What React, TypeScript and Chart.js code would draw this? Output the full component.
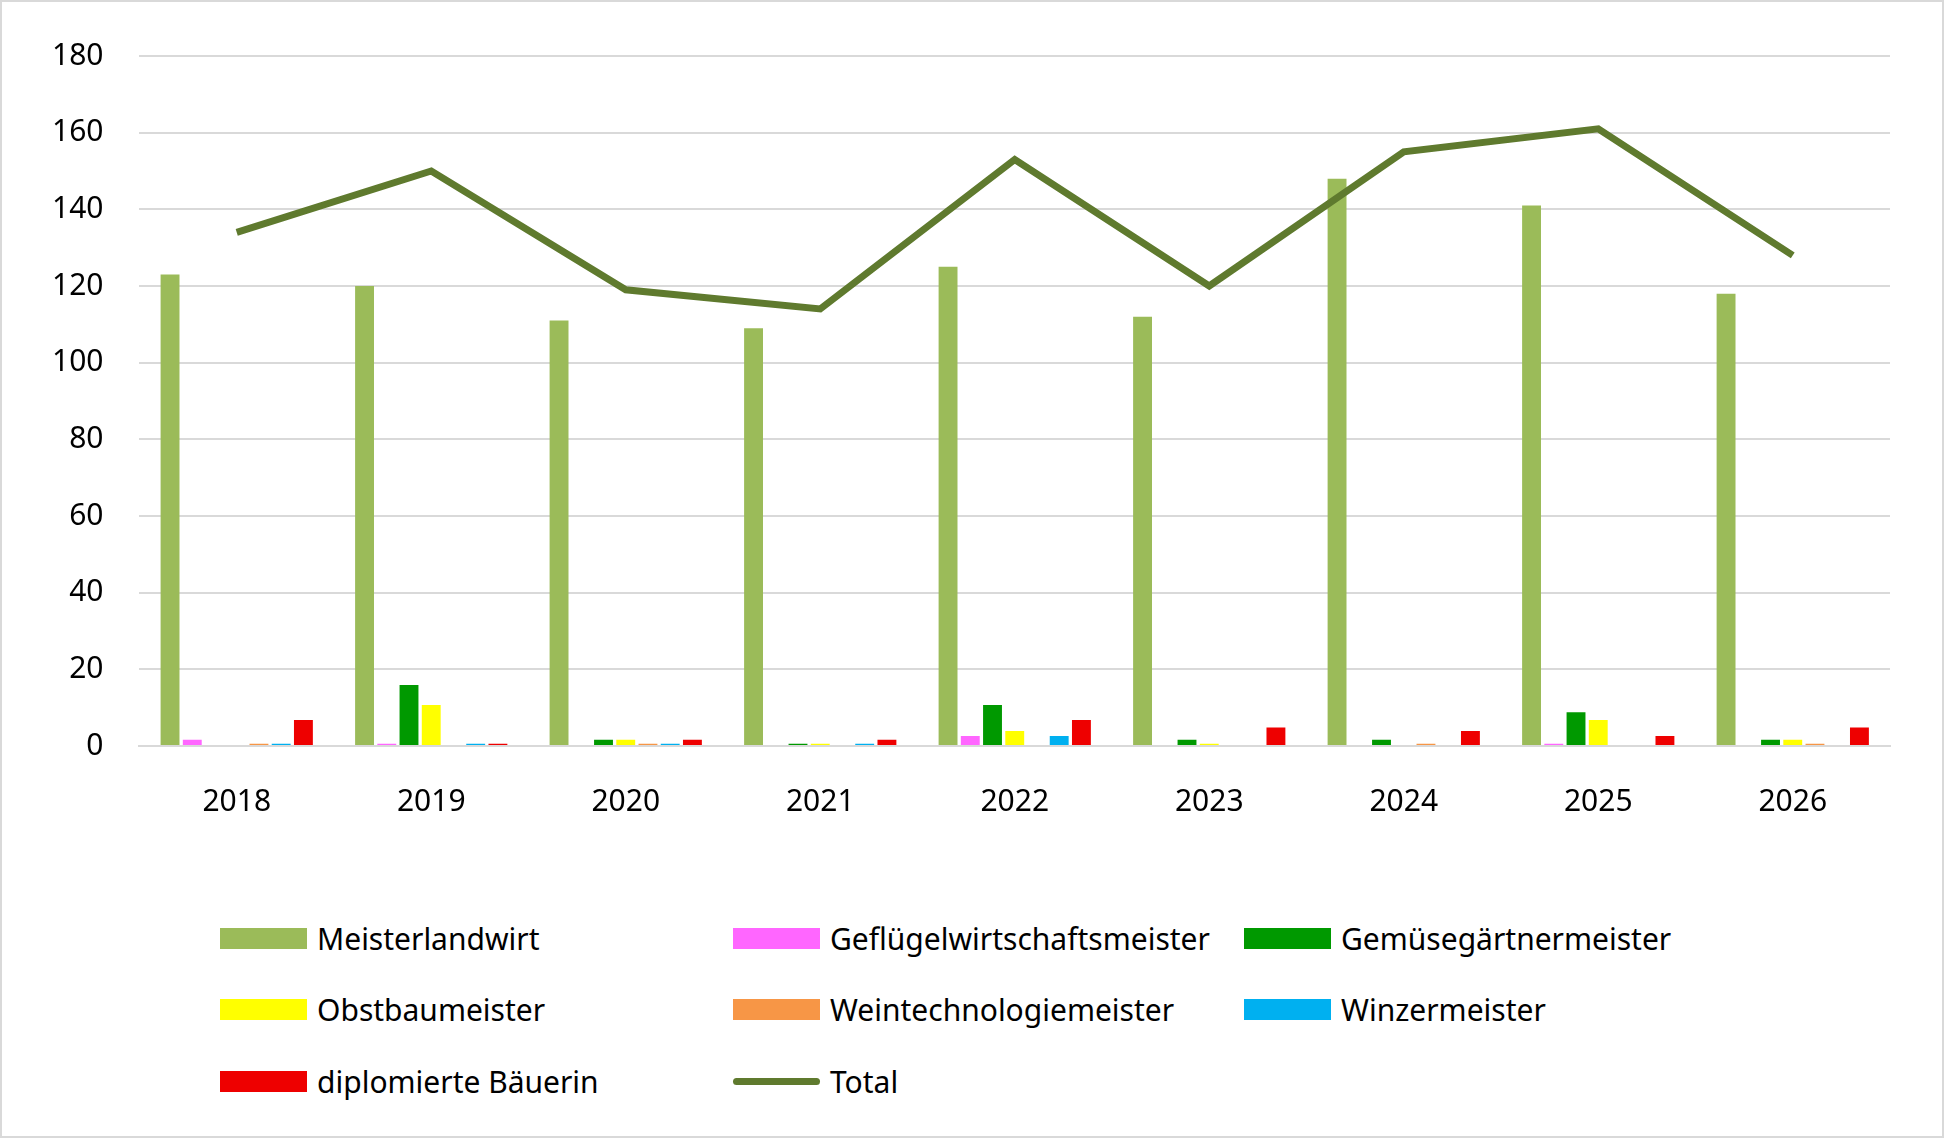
import React, { useEffect, useRef } from "react";
import { Chart, registerables } from "chart.js";
Chart.register(...registerables);

const years = ["2018", "2019", "2020", "2021", "2022", "2023", "2024", "2025", "2026"];
const meisterlandwirt = [123, 120, 111, 109, 125, 112, 148, 141, 118];
const gefluegel = [1.6, 0.6, 0, 0, 2.6, 0, 0, 0.6, 0];
const gemuese = [0, 15.9, 1.6, 0.6, 10.7, 1.6, 1.6, 8.8, 1.6];
const obstbau = [0, 10.7, 1.6, 0.6, 3.9, 0.6, 0, 6.8, 1.6];
const weintech = [0.6, 0, 0.6, 0, 0, 0, 0.6, 0, 0.6];
const winzer = [0.6, 0.6, 0.6, 0.6, 2.6, 0, 0, 0, 0];
const baeuerin = [6.8, 0.6, 1.6, 1.6, 6.8, 4.8, 3.9, 2.6, 4.8];
const total = [134, 150, 119, 114, 153, 120, 155, 161, 128];
const yTicks = [0, 20, 40, 60, 80, 100, 120, 140, 160, 180];

const series = [
  { label: "Meisterlandwirt", data: meisterlandwirt, color: "#9bbb59" },
  { label: "Geflügelwirtschaftsmeister", data: gefluegel, color: "#ff66ff" },
  { label: "Gemüsegärtnermeister", data: gemuese, color: "#009900" },
  { label: "Obstbaumeister", data: obstbau, color: "#ffff00" },
  { label: "Weintechnologiemeister", data: weintech, color: "#f79646" },
  { label: "Winzermeister", data: winzer, color: "#00b0f0" },
  { label: "diplomierte Bäuerin", data: baeuerin, color: "#ee0000" },
];
const lineColor = "#5f7a2e";
const FONT = "'Noto Sans', sans-serif";

export default function App() {
  const ref = useRef<HTMLCanvasElement>(null);
  useEffect(() => {
    const chart = new Chart(ref.current!, {
      type: "bar",
      data: {
        labels: years,
        datasets: [
          ...series.map((s) => ({
            type: "bar" as const,
            label: s.label,
            data: s.data,
            backgroundColor: s.color,
            barPercentage: 0.85,
            categoryPercentage: 0.8,
            order: 2,
          })),
          {
            type: "line" as const,
            label: "Total",
            data: total,
            borderColor: lineColor,
            backgroundColor: lineColor,
            borderWidth: 7,
            pointRadius: 0,
            tension: 0,
            order: 1,
          },
        ],
      },
      options: {
        responsive: false,
        animation: false,
        layout: { padding: { top: 39, right: 52, left: 14, bottom: 0 } },
        plugins: { legend: { display: false }, tooltip: { enabled: false } },
        scales: {
          x: {
            grid: { display: false },
            border: { color: "#d9d9d9", width: 2 },
            ticks: { color: "#000", font: { family: FONT, size: 30 }, padding: 30 },
          },
          y: {
            min: 0,
            max: 180,
            afterBuildTicks: (ax: any) => { ax.ticks = yTicks.map((v) => ({ value: v })); },
            grid: { color: "#d9d9d9", lineWidth: 2, drawTicks: false },
            border: { display: false },
            ticks: { color: "#000", font: { family: FONT, size: 30 }, padding: 36 },
          },
        },
      },
    });
    return () => chart.destroy();
  }, []);

  const legendItems = [
    ...series.map((s) => ({ label: s.label, color: s.color, line: false })),
    { label: "Total", color: lineColor, line: true },
  ];
  const colX = [218, 731, 1242];
  const rowY = [936, 1007, 1079];

  return (
    <div style={{ position: "absolute", left: 0, top: 0, width: 1944, height: 1138, background: "#fff", boxSizing: "border-box", border: "2px solid #d9d9d9", overflow: "hidden" }}>
      <canvas ref={ref} width={1940} height={848} style={{ position: "absolute", left: 0, top: 0 }} />
      {legendItems.map((it, i) => (
        <div key={it.label} style={{ position: "absolute", left: colX[i % 3], top: rowY[Math.floor(i / 3)] - 20, height: 40, display: "flex", alignItems: "center", fontFamily: FONT, fontSize: 30, color: "#000", whiteSpace: "nowrap" }}>
          <div style={{ width: 87, height: it.line ? 7 : 21, background: it.color, borderRadius: it.line ? 4 : 0, marginRight: 10 }} />
          {it.label}
        </div>
      ))}
    </div>
  );
}
